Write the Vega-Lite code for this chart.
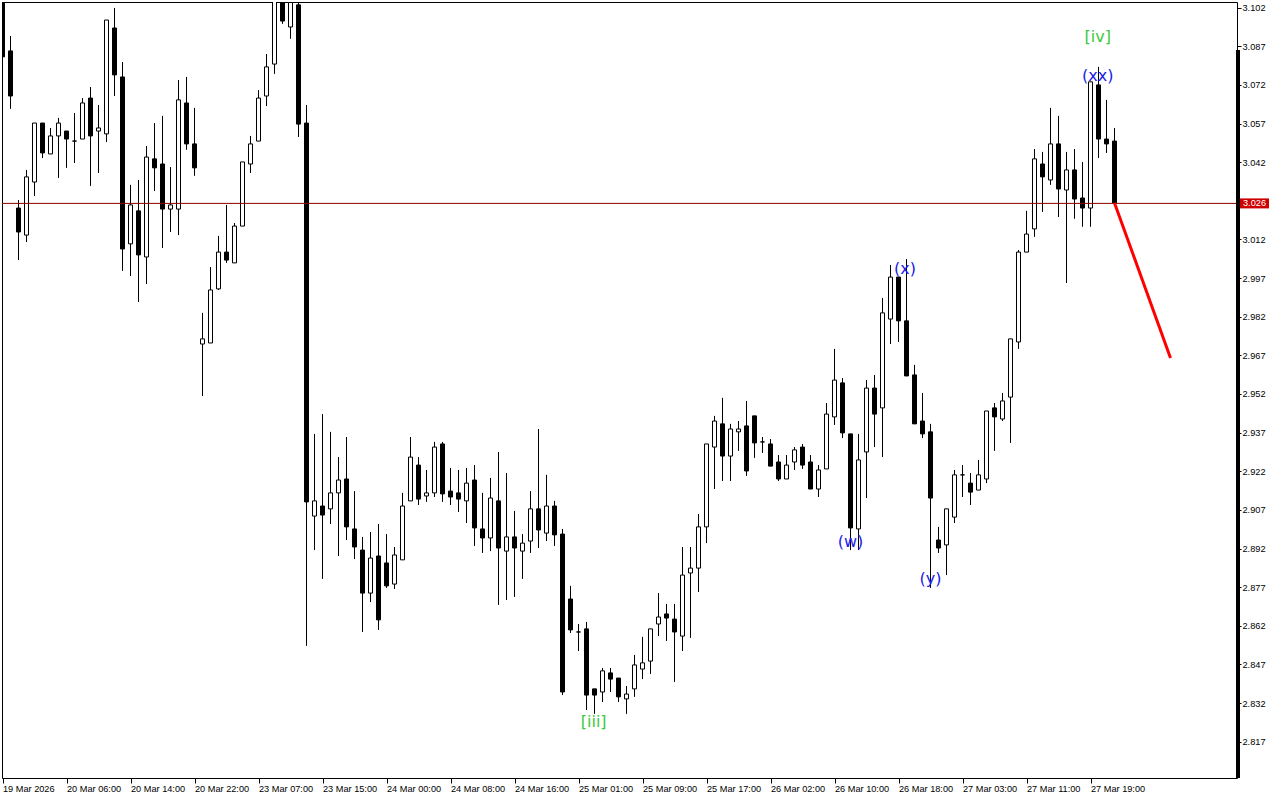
{
"$schema":"https://vega.github.io/schema/vega-lite/v6.json",
"width":1235,"height":776,
"autosize":{"type":"none"},
"padding":{"left":2,"top":2,"right":43,"bottom":22},
"background":"white",
"config":{"view":{"stroke":"black","strokeWidth":1},"scale":{"continuousPadding":0}},
"datasets":{
"candles":[
{"t":0,"o":3.1050,"h":3.1050,"l":3.0829,"c":3.0829},
{"t":1,"o":3.0852,"h":3.0910,"l":3.0627,"c":3.0677},
{"t":2,"o":3.0242,"h":3.0273,"l":3.0040,"c":3.0149},
{"t":3,"o":3.0137,"h":3.0390,"l":3.0110,"c":3.0363},
{"t":4,"o":3.0343,"h":3.0572,"l":3.0289,"c":3.0572},
{"t":5,"o":3.0572,"h":3.0572,"l":3.0436,"c":3.0456},
{"t":6,"o":3.0452,"h":3.0553,"l":3.0452,"c":3.0522},
{"t":7,"o":3.0522,"h":3.0592,"l":3.0359,"c":3.0572},
{"t":8,"o":3.0541,"h":3.0541,"l":3.0398,"c":3.0510},
{"t":9,"o":3.0502,"h":3.0611,"l":3.0417,"c":3.0502},
{"t":10,"o":3.0510,"h":3.0669,"l":3.0510,"c":3.0650},
{"t":11,"o":3.0669,"h":3.0712,"l":3.0328,"c":3.0522},
{"t":12,"o":3.0541,"h":3.0642,"l":3.0378,"c":3.0553},
{"t":13,"o":3.0530,"h":3.0972,"l":3.0498,"c":3.0972},
{"t":14,"o":3.0941,"h":3.1019,"l":3.0677,"c":3.0759},
{"t":15,"o":3.0751,"h":3.0809,"l":2.9998,"c":3.0083},
{"t":16,"o":3.0103,"h":3.0332,"l":2.9978,"c":3.0254},
{"t":17,"o":3.0231,"h":3.0351,"l":2.9877,"c":3.0060},
{"t":18,"o":3.0052,"h":3.0483,"l":2.9947,"c":3.0440},
{"t":19,"o":3.0433,"h":3.0572,"l":3.0308,"c":3.0398},
{"t":20,"o":3.0413,"h":3.0600,"l":3.0087,"c":3.0238},
{"t":21,"o":3.0238,"h":3.0401,"l":3.0149,"c":3.0254},
{"t":22,"o":3.0238,"h":3.0739,"l":3.0137,"c":3.0662},
{"t":23,"o":3.0650,"h":3.0751,"l":3.0468,"c":3.0491},
{"t":24,"o":3.0491,"h":3.0631,"l":3.0367,"c":3.0398},
{"t":25,"o":2.9714,"h":2.9835,"l":2.9512,"c":2.9734},
{"t":26,"o":2.9718,"h":3.0013,"l":2.9718,"c":2.9924},
{"t":27,"o":2.9928,"h":3.0134,"l":2.9924,"c":3.0071},
{"t":28,"o":3.0071,"h":3.0254,"l":3.0029,"c":3.0040},
{"t":29,"o":3.0029,"h":3.0184,"l":3.0029,"c":3.0172},
{"t":30,"o":3.0172,"h":3.0421,"l":3.0172,"c":3.0421},
{"t":31,"o":3.0413,"h":3.0522,"l":3.0378,"c":3.0491},
{"t":32,"o":3.0502,"h":3.0700,"l":3.0502,"c":3.0669},
{"t":33,"o":3.0677,"h":3.0840,"l":3.0638,"c":3.0790},
{"t":34,"o":3.0801,"h":3.1070,"l":3.0763,"c":3.1050},
{"t":35,"o":3.1050,"h":3.1070,"l":3.0957,"c":3.0968},
{"t":36,"o":3.0945,"h":3.1050,"l":3.0899,"c":3.1040},
{"t":37,"o":3.1031,"h":3.1050,"l":3.0518,"c":3.0568},
{"t":38,"o":3.0572,"h":3.0642,"l":2.8542,"c":2.9101},
{"t":39,"o":2.9046,"h":2.9365,"l":2.8914,"c":2.9105},
{"t":40,"o":2.9085,"h":2.9442,"l":2.8802,"c":2.9050},
{"t":41,"o":2.9074,"h":2.9373,"l":2.9015,"c":2.9136},
{"t":42,"o":2.9136,"h":2.9275,"l":2.8891,"c":2.9186},
{"t":43,"o":2.9190,"h":2.9353,"l":2.8953,"c":2.9004},
{"t":44,"o":2.8996,"h":2.9143,"l":2.8879,"c":2.8926},
{"t":45,"o":2.8914,"h":2.8965,"l":2.8596,"c":2.8747},
{"t":46,"o":2.8747,"h":2.8984,"l":2.8712,"c":2.8883},
{"t":47,"o":2.8891,"h":2.9015,"l":2.8604,"c":2.8643},
{"t":48,"o":2.8864,"h":2.8976,"l":2.8767,"c":2.8775},
{"t":49,"o":2.8782,"h":2.8926,"l":2.8763,"c":2.8895},
{"t":50,"o":2.8876,"h":2.9136,"l":2.8876,"c":2.9085},
{"t":51,"o":2.9105,"h":2.9353,"l":2.9105,"c":2.9275},
{"t":52,"o":2.9244,"h":2.9275,"l":2.9089,"c":2.9112},
{"t":53,"o":2.9124,"h":2.9225,"l":2.9101,"c":2.9136},
{"t":54,"o":2.9136,"h":2.9334,"l":2.9120,"c":2.9314},
{"t":55,"o":2.9326,"h":2.9334,"l":2.9101,"c":2.9132},
{"t":56,"o":2.9143,"h":2.9233,"l":2.9089,"c":2.9120},
{"t":57,"o":2.9136,"h":2.9225,"l":2.9062,"c":2.9112},
{"t":58,"o":2.9105,"h":2.9233,"l":2.9019,"c":2.9174},
{"t":59,"o":2.9186,"h":2.9244,"l":2.8930,"c":2.9000},
{"t":60,"o":2.8996,"h":2.9136,"l":2.8903,"c":2.8961},
{"t":61,"o":2.8961,"h":2.9194,"l":2.8910,"c":2.9116},
{"t":62,"o":2.9105,"h":2.9295,"l":2.8701,"c":2.8922},
{"t":63,"o":2.8910,"h":2.9213,"l":2.8720,"c":2.8965},
{"t":64,"o":2.8965,"h":2.9066,"l":2.8732,"c":2.8922},
{"t":65,"o":2.8910,"h":2.8976,"l":2.8802,"c":2.8941},
{"t":66,"o":2.8949,"h":2.9143,"l":2.8903,"c":2.9074},
{"t":67,"o":2.9074,"h":2.9384,"l":2.8922,"c":2.8992},
{"t":68,"o":2.8980,"h":2.9206,"l":2.8949,"c":2.9085},
{"t":69,"o":2.9085,"h":2.9105,"l":2.8930,"c":2.8973},
{"t":70,"o":2.8976,"h":2.8996,"l":2.8351,"c":2.8363},
{"t":71,"o":2.8724,"h":2.8775,"l":2.8592,"c":2.8604},
{"t":72,"o":2.8596,"h":2.8627,"l":2.8522,"c":2.8596},
{"t":73,"o":2.8608,"h":2.8635,"l":2.8293,"c":2.8351},
{"t":74,"o":2.8375,"h":2.8375,"l":2.8278,"c":2.8351},
{"t":75,"o":2.8363,"h":2.8456,"l":2.8324,"c":2.8445},
{"t":76,"o":2.8437,"h":2.8456,"l":2.8363,"c":2.8413},
{"t":77,"o":2.8417,"h":2.8417,"l":2.8324,"c":2.8344},
{"t":78,"o":2.8336,"h":2.8386,"l":2.8278,"c":2.8355},
{"t":79,"o":2.8375,"h":2.8507,"l":2.8344,"c":2.8468},
{"t":80,"o":2.8452,"h":2.8577,"l":2.8413,"c":2.8476},
{"t":81,"o":2.8483,"h":2.8608,"l":2.8433,"c":2.8608},
{"t":82,"o":2.8627,"h":2.8747,"l":2.8580,"c":2.8654},
{"t":83,"o":2.8666,"h":2.8705,"l":2.8561,"c":2.8650},
{"t":84,"o":2.8646,"h":2.8705,"l":2.8402,"c":2.8596},
{"t":85,"o":2.8580,"h":2.8926,"l":2.8522,"c":2.8817},
{"t":86,"o":2.8825,"h":2.8926,"l":2.8573,"c":2.8844},
{"t":87,"o":2.8844,"h":2.9054,"l":2.8751,"c":2.9004},
{"t":88,"o":2.9004,"h":2.9326,"l":2.8941,"c":2.9326},
{"t":89,"o":2.9314,"h":2.9435,"l":2.9151,"c":2.9415},
{"t":90,"o":2.9404,"h":2.9505,"l":2.9182,"c":2.9279},
{"t":91,"o":2.9279,"h":2.9404,"l":2.9182,"c":2.9384},
{"t":92,"o":2.9373,"h":2.9415,"l":2.9299,"c":2.9384},
{"t":93,"o":2.9396,"h":2.9493,"l":2.9202,"c":2.9221},
{"t":94,"o":2.9435,"h":2.9435,"l":2.9272,"c":2.9330},
{"t":95,"o":2.9334,"h":2.9353,"l":2.9291,"c":2.9334},
{"t":96,"o":2.9326,"h":2.9345,"l":2.9240,"c":2.9240},
{"t":97,"o":2.9256,"h":2.9283,"l":2.9182,"c":2.9190},
{"t":98,"o":2.9190,"h":2.9283,"l":2.9190,"c":2.9244},
{"t":99,"o":2.9256,"h":2.9314,"l":2.9225,"c":2.9303},
{"t":100,"o":2.9314,"h":2.9326,"l":2.9229,"c":2.9244},
{"t":101,"o":2.9256,"h":2.9283,"l":2.9151,"c":2.9151},
{"t":102,"o":2.9151,"h":2.9244,"l":2.9120,"c":2.9225},
{"t":103,"o":2.9229,"h":2.9485,"l":2.9229,"c":2.9442},
{"t":104,"o":2.9431,"h":2.9695,"l":2.9400,"c":2.9574},
{"t":105,"o":2.9563,"h":2.9582,"l":2.9349,"c":2.9369},
{"t":106,"o":2.9365,"h":2.9365,"l":2.8914,"c":2.9000},
{"t":107,"o":2.8996,"h":2.9365,"l":2.8914,"c":2.9264},
{"t":108,"o":2.9295,"h":2.9574,"l":2.9116,"c":2.9543},
{"t":109,"o":2.9543,"h":2.9594,"l":2.9314,"c":2.9442},
{"t":110,"o":2.9466,"h":2.9893,"l":2.9275,"c":2.9835},
{"t":111,"o":2.9811,"h":3.0021,"l":2.9714,"c":2.9974},
{"t":112,"o":2.9974,"h":2.9974,"l":2.9722,"c":2.9804},
{"t":113,"o":2.9804,"h":3.0044,"l":2.9590,"c":2.9590},
{"t":114,"o":2.9594,"h":2.9633,"l":2.9404,"c":2.9404},
{"t":115,"o":2.9415,"h":2.9524,"l":2.9349,"c":2.9365},
{"t":116,"o":2.9373,"h":2.9404,"l":2.8767,"c":2.9116},
{"t":117,"o":2.8953,"h":2.9004,"l":2.8903,"c":2.8922},
{"t":118,"o":2.8934,"h":2.9074,"l":2.8817,"c":2.9074},
{"t":119,"o":2.9042,"h":2.9225,"l":2.9019,"c":2.9206},
{"t":120,"o":2.9206,"h":2.9244,"l":2.9120,"c":2.9206},
{"t":121,"o":2.9174,"h":2.9213,"l":2.9089,"c":2.9139},
{"t":122,"o":2.9147,"h":2.9264,"l":2.9147,"c":2.9206},
{"t":123,"o":2.9190,"h":2.9454,"l":2.9174,"c":2.9454},
{"t":124,"o":2.9466,"h":2.9485,"l":2.9299,"c":2.9431},
{"t":125,"o":2.9423,"h":2.9524,"l":2.9415,"c":2.9493},
{"t":126,"o":2.9508,"h":2.9734,"l":2.9330,"c":2.9734},
{"t":127,"o":2.9722,"h":3.0079,"l":2.9695,"c":3.0071},
{"t":128,"o":3.0071,"h":3.0231,"l":3.0071,"c":3.0141},
{"t":129,"o":3.0161,"h":3.0471,"l":3.0130,"c":3.0433},
{"t":130,"o":3.0413,"h":3.0460,"l":3.0227,"c":3.0363},
{"t":131,"o":3.0351,"h":3.0631,"l":3.0332,"c":3.0491},
{"t":132,"o":3.0491,"h":3.0600,"l":3.0207,"c":3.0316},
{"t":133,"o":3.0312,"h":3.0460,"l":2.9951,"c":3.0390},
{"t":134,"o":3.0390,"h":3.0471,"l":3.0200,"c":3.0277},
{"t":135,"o":3.0281,"h":3.0421,"l":3.0169,"c":3.0242},
{"t":136,"o":3.0242,"h":3.0732,"l":3.0169,"c":3.0732},
{"t":137,"o":3.0720,"h":3.0790,"l":3.0436,"c":3.0510},
{"t":138,"o":3.0510,"h":3.0662,"l":3.0456,"c":3.0491},
{"t":139,"o":3.0502,"h":3.0553,"l":3.0262,"c":3.0262}
],
"waves":[
{"t":73.9,"p":2.8246,"label":"[iii]","degree":"intermediate"},
{"t":106,"p":2.8947,"label":"(w)","degree":"minor"},
{"t":112.8,"p":3.0005,"label":"(x)","degree":"minor"},
{"t":116,"p":2.8800,"label":"(y)","degree":"minor"},
{"t":136.9,"p":3.0755,"label":"(xx)","degree":"minor"},
{"t":136.9,"p":3.0906,"label":"[iv]","degree":"intermediate"}
],
"forecast":[{"t":139,"p":3.0262},{"t":146,"p":2.9660}],
"bid":[{"p":3.0260}]
},
"layer":[
{"data":{"name":"candles"},
 "mark":{"type":"rule","color":"black","strokeWidth":1,"clip":true},
 "encoding":{
  "x":{"field":"t","type":"quantitative","scale":{"domain":[-0.0625,154.3125],"nice":false,"zero":false,"padding":0},
   "axis":{"values":[0,8,16,24,32,40,48,56,64,72,80,88,96,104,112,120,128,136],
    "labelExpr":"['19 Mar 2026','20 Mar 06:00','20 Mar 14:00','20 Mar 22:00','23 Mar 07:00','23 Mar 15:00','24 Mar 00:00','24 Mar 08:00','24 Mar 16:00','25 Mar 01:00','25 Mar 09:00','25 Mar 17:00','26 Mar 02:00','26 Mar 10:00','26 Mar 18:00','27 Mar 03:00','27 Mar 11:00','27 Mar 19:00'][round(datum.value/8)]",
    "title":null,"grid":false,"domain":false,"tickSize":5,"tickColor":"black","labelAlign":"left","labelBaseline":"top","labelPadding":1,
    "labelFont":"Liberation Sans","labelFontSize":9.2,"labelColor":"black","labelOverlap":false,"labelBound":false,"labelFlush":false}},
  "y":{"field":"l","type":"quantitative","scale":{"domain":[2.8029,3.1042],"nice":false,"zero":false,"padding":0},
   "axis":{"orient":"right","values":[3.102,3.087,3.072,3.057,3.042,3.012,2.997,2.982,2.967,2.952,2.937,2.922,2.907,2.892,2.877,2.862,2.847,2.832,2.817],
    "format":".3f","title":null,"grid":false,"domain":false,"tickSize":4,"tickColor":"black","labelPadding":1,
    "labelFont":"Liberation Sans","labelFontSize":9.2,"labelColor":"black","labelOverlap":false,"labelBound":false,"labelFlush":false}},
  "y2":{"field":"h"}
 }},
{"data":{"name":"candles"},
 "mark":{"type":"bar","width":4,"stroke":"black","strokeWidth":1,"clip":true},
 "encoding":{
  "x":{"field":"t","type":"quantitative"},
  "y":{"field":"o","type":"quantitative"},
  "y2":{"field":"c"},
  "fill":{"condition":{"test":"datum.c > datum.o","value":"white"},"value":"black"}
 }},
{"data":{"name":"bid"},
 "mark":{"type":"rule","color":"#8c0000","strokeWidth":1},
 "encoding":{
  "y":{"field":"p","type":"quantitative"}
 }},
{"data":{"name":"forecast"},
 "mark":{"type":"line","color":"#ff0000","strokeWidth":3},
 "encoding":{
  "x":{"field":"t","type":"quantitative"},
  "y":{"field":"p","type":"quantitative"}
 }},
{"data":{"name":"waves"},
 "mark":{"type":"text","font":"DejaVu Sans","fontSize":16,"align":"center","baseline":"middle"},
 "encoding":{
  "x":{"field":"t","type":"quantitative"},
  "y":{"field":"p","type":"quantitative"},
  "text":{"field":"label"},
  "color":{"field":"degree","type":"nominal","scale":{"domain":["minor","intermediate"],"range":["#2020e8","#3cc83c"]},"legend":null}
 }},
{"data":{"name":"bid"},
 "mark":{"type":"rule","color":"black","strokeWidth":4,"xOffset":1},
 "encoding":{
  "x":{"datum":154.3125,"type":"quantitative"},
  "y":{"datum":3.0856,"type":"quantitative"},
  "y2":{"datum":2.8029}
 }},
{"data":{"name":"bid"},
 "mark":{"type":"tick","orient":"horizontal","size":29,"thickness":10,"color":"#cc0000","opacity":1},
 "encoding":{
  "x":{"datum":156.5,"type":"quantitative"},
  "y":{"field":"p","type":"quantitative"}
 }},
{"data":{"name":"bid"},
 "mark":{"type":"text","color":"white","font":"Liberation Sans","fontSize":9.2,"align":"center","baseline":"middle"},
 "encoding":{
  "x":{"datum":156.5,"type":"quantitative"},
  "y":{"field":"p","type":"quantitative"},
  "text":{"field":"p","format":".3f"}
 }}
]
}
